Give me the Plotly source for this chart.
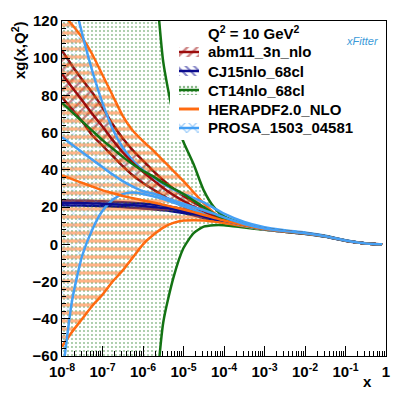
import plotly.graph_objects as go

# x grid (log spaced) shared by all PDF curves
x_grid = [1e-8, 1.78e-8, 3.16e-8, 5.62e-8, 1e-7, 1.78e-7, 3.16e-7, 5.62e-7,
          1e-6, 1.78e-6, 3.16e-6, 5.62e-6, 1e-5, 1.78e-5, 3.16e-5, 5.62e-5,
          1e-4, 3.16e-4, 1e-3, 3.16e-3, 1e-2, 3.16e-2, 0.1, 0.2, 0.316, 0.5, 0.8]

# xg(x, Q2=10): upper / lower edge and central value
abm_up = [104, 96, 88.5, 81.5, 73.5, 64.5, 57, 50.5, 45, 39.5, 34.5, 30, 26, 22.5, 19.5,
          16.5, 14, 10.9, 8.5, 7.15, 6.0, 4.4, 2.05, 1.02, 0.51, 0.2, 0.02]
abm_lo = [79, 72.5, 66, 58.5, 53, 47.5, 42, 37, 33, 29.5, 26, 23, 20.5, 18, 16, 14, 12.5,
          10.1, 8.1, 6.85, 5.8, 4.2, 1.95, 0.98, 0.49, 0.19, 0.02]
abm_c = [91.5, 84.3, 77.3, 70, 63.3, 56, 49.5, 43.8, 39, 34.5, 30.3, 26.5, 23.3, 20.3, 17.8,
         15.3, 13.3, 10.5, 8.3, 7.0, 5.9, 4.3, 2.0, 1.0, 0.5, 0.2, 0.02]

cj_up = [23.6, 23.5, 23.4, 23.3, 23.1, 22.9, 22.6, 22.3, 21.9, 21.4, 20.9, 19.9, 18.8, 17.4,
         15.8, 14.5, 13.4, 10.8, 8.5, 7.15, 6.0, 4.4, 2.05, 1.03, 0.52, 0.21, 0.025]
cj_lo = [21.0, 20.9, 20.8, 20.7, 20.5, 20.3, 20.0, 19.7, 19.3, 18.8, 18.3, 17.7, 16.8, 15.6,
         14.2, 13.1, 12.2, 10.0, 7.9, 6.75, 5.7, 4.2, 1.95, 0.97, 0.48, 0.19, 0.015]
cj_c = [22.3, 22.2, 22.1, 22.0, 21.8, 21.6, 21.3, 21.0, 20.6, 20.1, 19.6, 18.8, 17.8, 16.5,
        15.0, 13.8, 12.8, 10.4, 8.2, 6.95, 5.85, 4.3, 2.0, 1.0, 0.5, 0.2, 0.02]

ct_up = [400, 380, 360, 340, 320, 300, 280, 250, 210, 158, 98, 70, 55, 43, 29, 20, 15,
         11, 8.7, 7.25, 6.1, 4.45, 2.1, 1.05, 0.52, 0.21, 0.025]
ct_lo = [-400, -380, -360, -340, -320, -300, -280, -250, -180, -100, -42, -18, -2, 6, 9.5,
         10.3, 10.3, 9.0, 7.8, 6.75, 5.7, 4.15, 1.95, 0.98, 0.49, 0.19, 0.015]
ct_c = [76, 71, 66, 61, 56, 51.5, 47, 43, 39.5, 36.5, 33, 30, 27, 23.5, 20, 16.5, 13.5,
        10.4, 8.2, 6.95, 5.85, 4.3, 2.0, 1.0, 0.5, 0.2, 0.02]

hera_up = [124, 118, 111, 102, 91, 80, 69, 61, 55.5, 50.5, 45, 39.5, 34, 28, 22, 17, 13.8,
           10.6, 8.4, 7.05, 5.95, 4.35, 2.02, 1.01, 0.5, 0.2, 0.02]
hera_lo = [-55, -47, -40, -33, -27, -20, -14, -7, 0, 5, 9, 11.5, 12.8, 13, 12.8, 12.2, 11.5,
           9.7, 7.9, 6.75, 5.7, 4.2, 1.95, 0.98, 0.49, 0.19, 0.02]
hera_c = [37, 35, 33, 31, 29, 27.5, 26, 24.8, 23.6, 22.5, 21.3, 20, 18.7, 17.3, 15.8, 14.3,
          12.8, 10.3, 8.2, 6.9, 5.85, 4.3, 2.0, 1.0, 0.5, 0.2, 0.02]

prosa_up = [160, 135, 113, 93, 76, 62, 52, 45, 40, 36, 32.5, 29.5, 27, 25, 22.5, 19.5, 16.5,
            12, 9.2, 7.6, 6.3, 4.6, 2.15, 1.07, 0.54, 0.22, 0.03]
prosa_lo = [-72, -30, -6, 8, 18, 24, 27, 27.8, 27, 25.8, 24.3, 22.5, 20.5, 18.5, 16.5,
            14.5, 12.8, 10.0, 7.9, 6.7, 5.6, 4.1, 1.9, 0.95, 0.47, 0.18, 0.015]
prosa_c = [57.5, 53.5, 49.5, 45.5, 41.5, 37.5, 34, 31, 28.5, 27.3, 25.5, 23.6, 21.8, 20,
           18.3, 16.5, 14.5, 10.9, 8.5, 7.1, 5.95, 4.35, 2.03, 1.01, 0.5, 0.2, 0.02]

pdf_names = ["abm11_3n_nlo", "CJ15nlo_68cl", "CT14nlo_68cl", "HERAPDF2.0_NLO", "PROSA_1503_04581"]
x_ticks = [1e-8, 1e-7, 1e-6, 1e-5, 1e-4, 1e-3, 1e-2, 1e-1, 1]
x_ticktext = ["10<sup>-8</sup>", "10<sup>-7</sup>", "10<sup>-6</sup>", "10<sup>-5</sup>",
              "10<sup>-4</sup>", "10<sup>-3</sup>", "10<sup>-2</sup>", "10<sup>-1</sup>", "1"]

# style per PDF: colour, hatch shape, hatch size, solidity
styles = [
    ("#9c0d0d", "/", 7, 0.35),
    ("#0c0c8e", "\\", 6, 0.35),
    ("#137313", ".", 4, 0.16),
    ("#ff6a10", "-", 8, 0.4),
    ("#45a0f5", "x", 8, 0.12),
]
bands = [
    (abm_lo, abm_up, abm_c),
    (cj_lo, cj_up, cj_c),
    (ct_lo, ct_up, ct_c),
    (hera_lo, hera_up, hera_c),
    (prosa_lo, prosa_up, prosa_c),
]

FONT = "Liberation Sans"
fig = go.Figure()

# bands: lower edge, upper edge filled to it with hatch
for (lo, up, c), (col, shape, size, sol) in zip(bands, styles):
    line = dict(color=col, width=2.5, shape="spline", smoothing=0.6)
    fig.add_trace(go.Scatter(x=x_grid, y=lo, mode="lines", line=line, hoverinfo="skip"))
    fig.add_trace(go.Scatter(
        x=x_grid, y=up, mode="lines", line=line, fill="tonexty",
        fillcolor="rgba(0,0,0,0)",
        fillpattern=dict(shape=shape, fgcolor=col, bgcolor="rgba(0,0,0,0)",
                         size=size, solidity=sol),
        hoverinfo="skip"))
# central values on top
for (lo, up, c), (col, shape, size, sol) in zip(bands, styles):
    fig.add_trace(go.Scatter(x=x_grid, y=c, mode="lines",
                             line=dict(color=col, width=2.5, shape="spline", smoothing=0.6),
                             hoverinfo="skip"))

# hand-made legend keys on a small helper axis (units = pixels of the plot)
leg_y = [52, 71, 90, 109, 128]
for yc, (col, shape, size, sol) in zip(leg_y, styles):
    fig.add_trace(go.Scatter(
        x=[179, 199, 199, 179, 179], y=[yc - 5, yc - 5, yc + 5, yc + 5, yc - 5],
        xaxis="x3", yaxis="y3", mode="lines", line=dict(width=0), fill="toself",
        fillcolor="rgba(0,0,0,0)",
        fillpattern=dict(shape=shape, fgcolor=col, bgcolor="rgba(0,0,0,0)",
                         size=size, solidity=max(sol, 0.3)),
        hoverinfo="skip"))
    fig.add_trace(go.Scatter(x=[179, 199], y=[yc, yc], xaxis="x3", yaxis="y3", mode="lines",
                             line=dict(color=col, width=2.5), hoverinfo="skip"))


def px_x(px):
    return (px - 62) / 324


def px_y(py):
    return (356 - py) / 335


annotations = [
    dict(x=px_x(206), y=px_y(32), text="Q<sup>2</sup> = 10 GeV<sup>2</sup>"),
]
for yc, name in zip(leg_y, pdf_names):
    annotations.append(dict(x=px_x(206), y=px_y(yc), text=name))
for a in annotations:
    a.update(xref="paper", yref="paper", showarrow=False, xanchor="left", yanchor="middle",
             font=dict(family=FONT, size=15, color="black", weight="bold"))
annotations += [
    dict(x=px_x(18), y=px_y(50), xref="paper", yref="paper", text="xg(x,Q<sup>2</sup>)",
         textangle=-90, showarrow=False, xanchor="center", yanchor="middle"),
    dict(x=px_x(367), y=px_y(382), xref="paper", yref="paper", text="x", showarrow=False,
         xanchor="center", yanchor="middle"),
    dict(x=px_x(362), y=px_y(41), xref="paper", yref="paper", text="<i>xFitter</i>",
         showarrow=False,
         font=dict(family=FONT, size=11, color="#3a9ad9", weight="normal"),
         xanchor="center", yanchor="middle"),
]

minor_x = [k * 10.0 ** e for e in range(-8, 0) for k in range(2, 10)]

fig.update_layout(
    width=407, height=396,
    margin=dict(l=62, r=21, t=21, b=40),
    paper_bgcolor="white", plot_bgcolor="white",
    showlegend=False,
    font=dict(family=FONT, size=15, color="black", weight="bold"),
    annotations=annotations,
    xaxis=dict(type="log", range=[-8, 0], tickmode="array", tickvals=x_ticks,
               ticktext=x_ticktext, ticks="inside", ticklen=10, tickcolor="black",
               showline=True, mirror=True, linecolor="black", linewidth=1,
               showgrid=False, zeroline=False, ticklabelstandoff=2,
               tickfont=dict(family=FONT, size=15, color="black", weight="bold"),
               minor=dict(tickmode="array", tickvals=minor_x, ticks="inside",
                          ticklen=5, tickcolor="black", showgrid=False)),
    yaxis=dict(range=[-60, 120], tick0=0, dtick=20, ticks="inside", ticklen=8,
               tickcolor="black", showline=True, mirror=True, linecolor="black",
               linewidth=1, showgrid=False, zeroline=False,
               tickfont=dict(family=FONT, size=15, color="black", weight="bold"),
               minor=dict(dtick=4, ticks="inside", ticklen=4, tickcolor="black",
                          showgrid=False)),
    xaxis3=dict(domain=[px_x(170), px_x(205)], range=[170, 205], autorange=False,
                visible=False, anchor="y3", fixedrange=True),
    yaxis3=dict(domain=[px_y(140), px_y(25)], range=[140, 25], autorange=False,
                visible=False, anchor="x3", fixedrange=True),
)

fig.write_html("out.html", config={"displayModeBar": False},
               post_script="document.body.style.margin='0px';")
